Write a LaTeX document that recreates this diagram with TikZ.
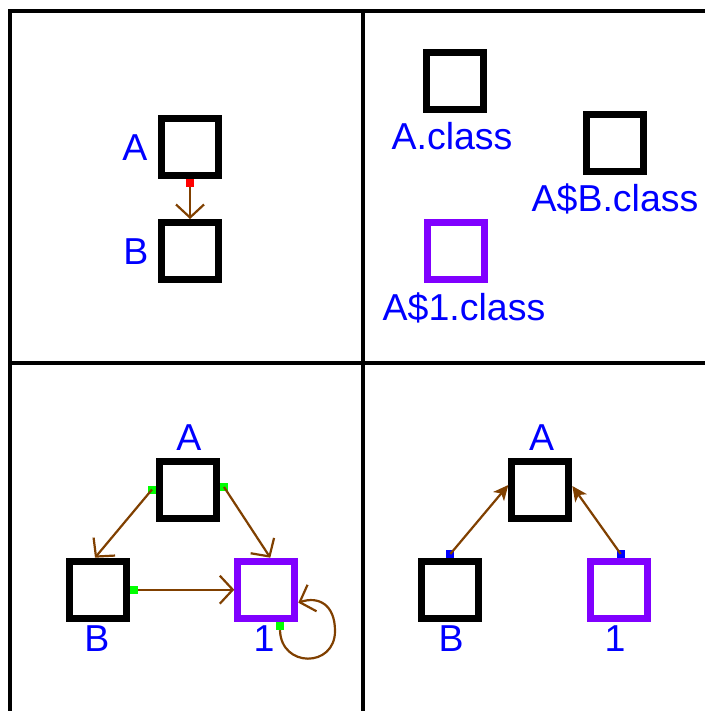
\documentclass[tikz,border=0pt]{standalone}
\usepackage{fontspec}
\setmainfont{Liberation Sans}
\usetikzlibrary{arrows.meta,calc}

\definecolor{linkbrown}{RGB}{128,64,0}
\definecolor{labelblue}{RGB}{0,0,255}
\definecolor{innerpurple}{RGB}{128,0,255}
\definecolor{portgreen}{RGB}{0,255,0}
\definecolor{portred}{RGB}{255,0,0}

\tikzset{
  frame/.style={line width=4pt, line join=miter},
  classbox/.style={draw=black, line width=7pt, minimum size=57pt, inner sep=0pt, fill=white},
  innerbox/.style={classbox, draw=innerpurple},
  lbl/.style={text=labelblue, inner sep=0pt, anchor=base, font=\fontsize{37.5}{40}\selectfont},
  port/.style={minimum size=8pt, inner sep=0pt, fill=#1},
  link/.style={draw=linkbrown, line width=2.2pt},
  barb/.style={link, -{Straight Barb[length=13pt,width=28pt,line width=2.2pt]}},
  solidtip/.style={link, -{Stealth[length=15pt,width=14pt,inset=4pt]}},
}

\begin{document}
\begin{tikzpicture}[x=1pt, y=-1pt]
  \useasboundingbox (0,0) rectangle (705,711);
  \fill[white] (0,0) rectangle (705,711);

  % panel grid
  \draw[frame] (10,711) -- (10,11) -- (705,11);
  \draw[frame] (362.5,11) -- (362.5,711);
  \draw[frame] (10,362.5) -- (705,362.5);

  % ---- top left: source view ----
  \node[classbox] (sA) at (190,147) {};
  \node[classbox] (sB) at (190,251) {};
  \node[lbl] (sAl) at (135,160.5) {A};
  \node[lbl] (sBl) at (136,264.5) {B};
  \node[port=portred] (sP) at (190,183) {};
  \draw[barb] (sP.south) -- (sB.north);

  % ---- top right: class files ----
  \node[classbox] (fA) at (454.5,81) {};
  \node[lbl] (fAl) at (452,150) {A.class};
  \node[classbox] (fB) at (614.5,143) {};
  \node[lbl] (fBl) at (615,211.5) {A\$B.class};
  \node[innerbox] (f1) at (456.3,251) {};
  \node[lbl] (f1l) at (464,320) {A\$1.class};

  % ---- bottom left: usage graph ----
  \node[classbox] (uA) at (188,489.5) {};
  \node[classbox] (uB) at (98,589.7) {};
  \node[innerbox] (u1) at (266.3,589.7) {};
  \node[lbl] (uAl) at (189,450) {A};
  \node[lbl] (uBl) at (97,651) {B};
  \node[lbl] (u1l) at (264,651) {1};
  \node[port=portgreen] (uPl) at (152,489.5) {};
  \node[port=portgreen] (uPr) at (224,487) {};
  \node[port=portgreen] (uPb) at (134,589.7) {};
  \node[port=portgreen] (uP1) at (280,626) {};
  \draw[barb] (uPl.center) -- ([xshift=-3pt]uB.north);
  \draw[barb] (uPr.center) -- ([xshift=4pt]u1.north);
  \draw[barb] (uPb.east) -- (u1.west);
  \draw[barb] (uP1.south) .. controls (281,668) and (335,668) .. (335,631)
                          .. controls (335,604) and (318,596) .. ([yshift=-13pt]u1.east);

  % ---- bottom right: nesting ----
  \node[classbox] (nA) at (540.3,489.7) {};
  \node[classbox] (nB) at (450.3,589.7) {};
  \node[innerbox] (n1) at (618.7,589.7) {};
  \node[lbl] (nAl) at (541.5,450) {A};
  \node[lbl] (nBl) at (451,651) {B};
  \node[lbl] (n1l) at (615,651) {1};
  \node[port=labelblue] (nPb) at (450.3,554) {};
  \node[port=labelblue] (nP1) at (620.7,554) {};
  \draw[solidtip] (nPb.center) -- ([yshift=4.7pt]nA.west);
  \draw[solidtip] (nP1.center) -- ([yshift=3.7pt]nA.east);
\end{tikzpicture}
\end{document}
